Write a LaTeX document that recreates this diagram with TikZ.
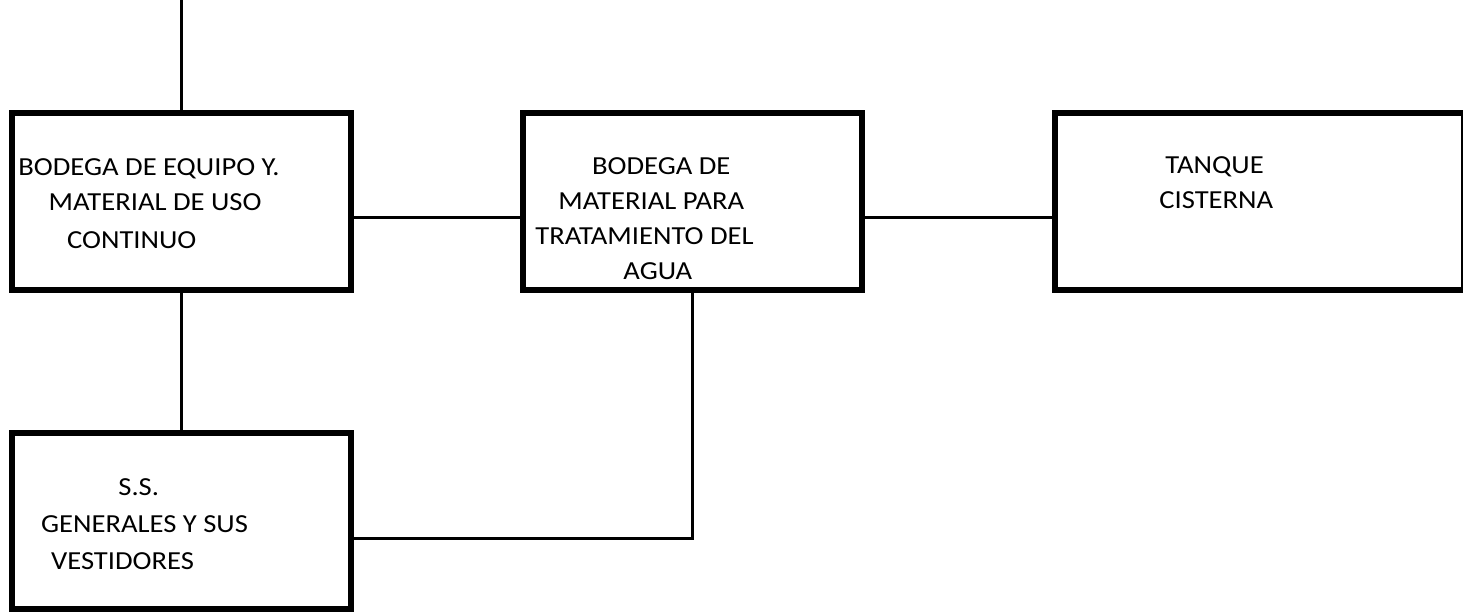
\documentclass[tikz,border=0pt]{standalone}
\usepackage{fontspec}
\setmainfont[FakeStretch=1.1]{Carlito}
\begin{document}
\begin{tikzpicture}[x=0.5pt,y=-0.5pt,
  roombox/.style={draw=black,line width=3pt,rectangle,inner sep=0pt,fill=white},
  link/.style={draw=black,line width=1.5pt},
  label/.style={anchor=base west,inner sep=0pt,font=\fontsize{13}{15}\selectfont}]
\useasboundingbox (0,0) rectangle (1463,613);
% boxes
\node[roombox,minimum width=169.5pt,minimum height=88.5pt] (A) at (181,202) {};
\node[roombox,minimum width=169.75pt,minimum height=88.5pt] (B) at (692.25,202) {};
\node[roombox,minimum width=204.5pt,minimum height=88.5pt] (C) at (1259.5,202) {};
\node[roombox,minimum width=169.5pt,minimum height=88pt] (D) at (181,521.5) {};
% connectors
\coordinate (top) at (181,0);
\draw[link] (top) -- (A.north);
\draw[link] ([yshift=-8pt]A.east) -- ([yshift=-8pt]B.west);
\draw[link] ([yshift=-8pt]B.east) -- ([yshift=-8pt]C.west);
\draw[link] (A.south) -- (D.north);
\draw[link] (B.south) |- ([yshift=-8.75pt]D.east);
% texts
\node[label] (a1) at (18,176) {BODEGA DE EQUIPO Y.};
\node[label] (a2) at (48.3,211) {MATERIAL DE USO};
\node[label] (a3) at (66.7,249) {CONTINUO};
\node[label] (b1) at (591.7,175) {BODEGA DE};
\node[label] (b2) at (558,210) {MATERIAL PARA};
\node[label] (b3) at (535,245) {TRATAMIENTO DEL};
\node[label] (b4) at (623,280) {AGUA};
\node[label] (c1) at (1165,174) {TANQUE};
\node[label] (c2) at (1159,209) {CISTERNA};
\node[label] (d1) at (118,496) {S.S.};
\node[label] (d2) at (40.7,532.7) {GENERALES Y SUS};
\node[label] (d3) at (50.7,569.3) {VESTIDORES};
\end{tikzpicture}
\end{document}
